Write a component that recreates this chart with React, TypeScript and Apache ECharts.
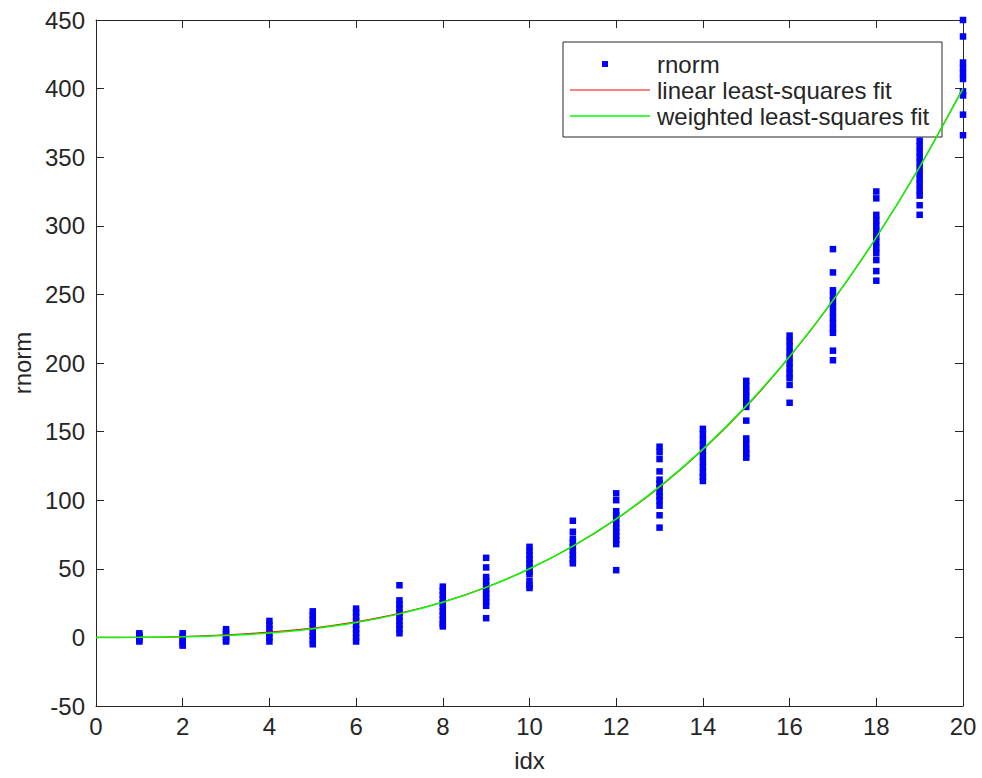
import React, { useEffect, useRef } from "react";
import * as echarts from "echarts";

const rnormIdx = [1, 2, 3, 4, 5, 6, 7, 8, 9, 10, 11, 12, 13, 14, 15, 16, 17, 18, 19, 20];
const rnormValues: number[][] = [
  [3, 1.5, 0, -1.5, -3],
  [3, 1, -1, -3, -5, -6],
  [6, 4, 2, 0, -2, -3],
  [12, 9, 6, 3, 0, -3],
  [19, 16, 13, 10, 7, 4, 1, -2, -5],
  [21, 18, 15, 12, 9, 6, 3, 0, -3],
  [38, 27, 24, 21, 18, 15, 12, 9, 6, 3],
  [37, 34, 31, 28, 25, 22, 19, 16, 13, 10, 8],
  [58, 51, 44, 41, 38, 35, 32, 29, 26, 23, 14],
  [66, 63, 60, 57, 54, 51, 48, 46, 41, 38, 36],
  [85, 77, 72, 69, 66, 63, 60, 57, 54],
  [105, 100, 92, 89, 86, 83, 80, 77, 74, 71, 68, 49],
  [139, 135, 130, 121, 115, 112, 109, 106, 103, 100, 96, 89, 80],
  [152, 148, 144, 140, 136, 132, 128, 124, 120, 117, 114],
  [187, 183, 179, 175, 171, 168, 158, 145, 141, 137, 134, 131],
  [220, 216, 212, 208, 204, 200, 196, 192, 189, 184, 171],
  [283, 266, 253, 249, 245, 241, 237, 233, 229, 225, 222, 209, 202],
  [325, 320, 308, 304, 300, 296, 292, 288, 284, 280, 275, 267, 260],
  [362, 358, 354, 350, 346, 342, 338, 334, 330, 326, 322, 315, 308],
  [450, 438, 419, 415, 411, 407, 398, 395, 381, 366],
];

const fitIdx = [0, 1, 2, 3, 4, 5, 6, 7, 8, 9, 10, 11, 12, 13, 14, 15, 16, 17, 18, 19, 20];
const linearFit = [0, 0.1, 0.6, 1.8, 3.8, 6.8, 11.3, 17.5, 25.8, 36.5, 50, 66.4, 86.2, 109.5, 136.7, 168.2, 204.4, 245.4, 291.5, 343, 400.5];
const weightedFit = [0, 0.05, 0.4, 1.35, 3.2, 6.25, 10.8, 17.15, 25.6, 36.45, 50, 66.55, 86.4, 109.85, 137.2, 168.75, 204.8, 245.65, 291.6, 342.95, 400];

const xTicks = [0, 20, 2];
const yTicks = [-50, 450, 50];

const legendLabels = ["rnorm", "linear least-squares fit", "weighted least-squares fit"];

const FONT = "'Liberation Sans', Arial, Helvetica, sans-serif";
const AX = "#262626";

export default function App() {
  const ref = useRef<HTMLDivElement>(null);
  useEffect(() => {
    if (!ref.current) return;
    const chart = echarts.init(ref.current, undefined, { renderer: "svg" });
    const scatterData: number[][] = [];
    rnormIdx.forEach((x, i) => rnormValues[i].forEach((v) => scatterData.push([x, v])));
    const gl = { left: 96, top: 20, width: 867, height: 686 };
    const fs = 24;
    const baseX = {
      type: "value" as const,
      min: xTicks[0],
      max: xTicks[1],
      interval: xTicks[2],
      splitLine: { show: false },
      axisLine: { show: true, onZero: false, lineStyle: { color: AX, width: 1 } },
      axisTick: { show: true, inside: true, length: 8, lineStyle: { color: AX } },
    };
    const baseY = {
      type: "value" as const,
      min: yTicks[0],
      max: yTicks[1],
      interval: yTicks[2],
      splitLine: { show: false },
      axisLine: { show: true, onZero: false, lineStyle: { color: AX, width: 1 } },
      axisTick: { show: true, inside: true, length: 8, lineStyle: { color: AX } },
    };
    const lx = 563, ly = 42, lw = 379, lh = 95;
    const rows = [64, 90, 116];
    chart.setOption({
      animation: false,
      backgroundColor: "#ffffff",
      textStyle: { fontFamily: FONT },
      grid: gl,
      xAxis: [
        {
          ...baseX,
          position: "bottom",
          name: "idx",
          nameLocation: "middle",
          nameGap: 42,
          nameTextStyle: { fontSize: fs, color: AX, fontFamily: FONT },
          axisLabel: { show: true, margin: 8, fontSize: fs, color: AX, fontFamily: FONT },
        },
        { ...baseX, position: "top", axisLabel: { show: false } },
      ],
      yAxis: [
        {
          ...baseY,
          position: "left",
          name: "rnorm",
          nameLocation: "middle",
          nameGap: 58,
          nameTextStyle: { fontSize: fs, color: AX, fontFamily: FONT },
          axisLabel: { show: true, margin: 11, fontSize: fs, color: AX, fontFamily: FONT },
        },
        { ...baseY, position: "right", axisLabel: { show: false } },
      ],
      series: [
        {
          name: legendLabels[0],
          type: "scatter",
          data: scatterData,
          symbol: "rect",
          symbolSize: 6.5,
          clip: false,
          itemStyle: { color: "#0000ff", opacity: 1 },
          z: 2,
        },
        {
          name: legendLabels[1],
          type: "line",
          data: fitIdx.map((x, i) => [x, linearFit[i]]),
          showSymbol: false,
          smooth: 0.3,
          lineStyle: { color: "#ff0000", width: 1.2 },
          z: 3,
        },
        {
          name: legendLabels[2],
          type: "line",
          data: fitIdx.map((x, i) => [x, weightedFit[i]]),
          showSymbol: false,
          smooth: 0.3,
          lineStyle: { color: "#00ff00", width: 1.5 },
          z: 4,
        },
      ],
      graphic: [
        {
          type: "group",
          z: 100,
          children: [
            { type: "rect", shape: { x: lx, y: ly, width: lw, height: lh }, style: { fill: "#ffffff", stroke: AX, lineWidth: 1 } },
            { type: "rect", shape: { x: 602, y: rows[0] - 3, width: 6, height: 6 }, style: { fill: "#0000ff" } },
            { type: "line", shape: { x1: 570, y1: rows[1], x2: 650, y2: rows[1] }, style: { stroke: "#ff0000", lineWidth: 1.2 } },
            { type: "line", shape: { x1: 570, y1: rows[2], x2: 650, y2: rows[2] }, style: { stroke: "#00ff00", lineWidth: 1.5 } },
            ...legendLabels.map((t, i) => ({
              type: "text",
              x: 657,
              y: rows[i],
              style: { text: t, fontSize: fs, fontFamily: FONT, fill: AX, verticalAlign: "middle", align: "left" },
            })),
          ],
        },
      ],
    });
    return () => chart.dispose();
  }, []);
  return <div ref={ref} style={{ position: "fixed", left: 0, top: 0, width: 982, height: 778 }} />;
}
